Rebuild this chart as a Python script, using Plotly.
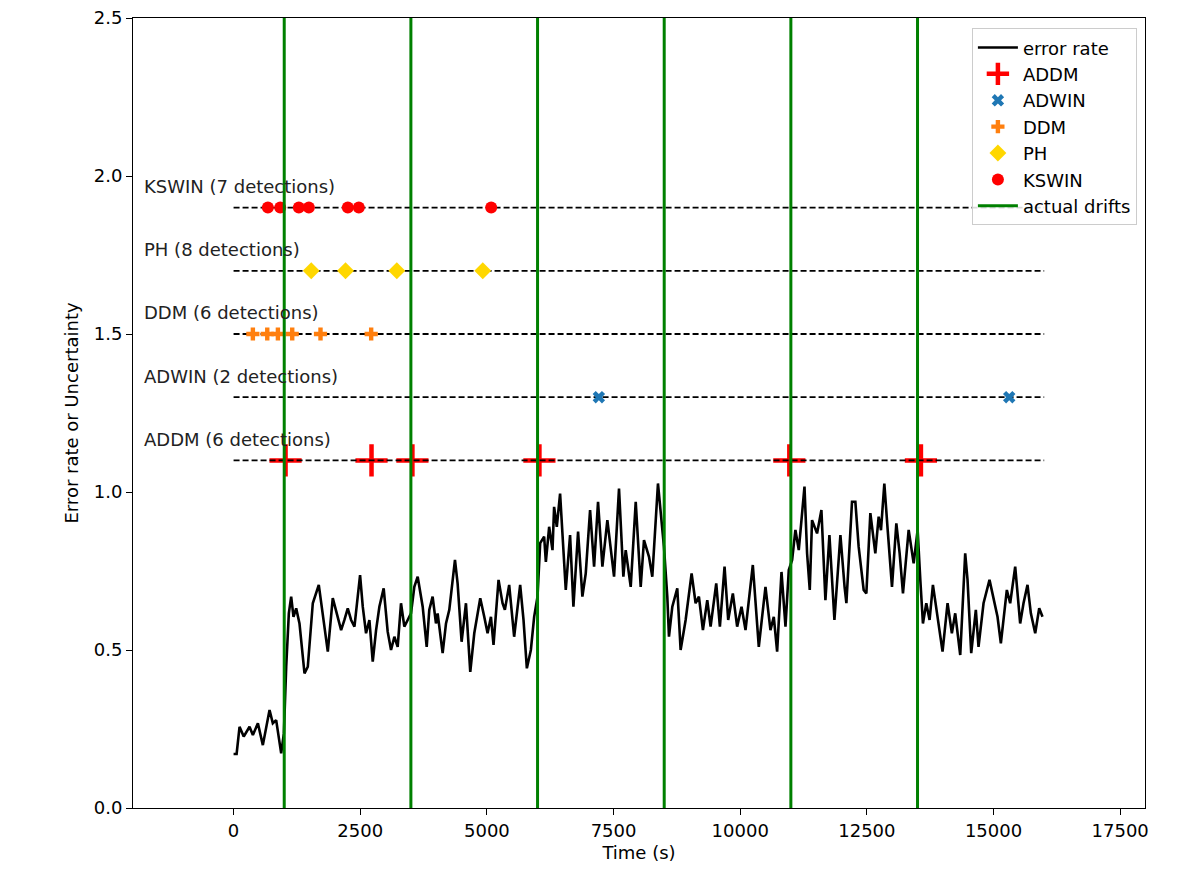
import plotly.graph_objects as go

# ---- data ----
err_t = [0, 60, 118, 200, 315, 381, 480, 578, 710, 775, 841, 940, 993, 1039, 1091, 1137, 1183, 1236,
         1301, 1400, 1465, 1564, 1682, 1761, 1860, 1958, 2024, 2123, 2188, 2254, 2320, 2386, 2497,
         2550, 2615, 2681, 2747, 2813, 2878, 2963, 3042, 3108, 3174, 3239, 3305, 3371, 3437, 3502,
         3568, 3634, 3733, 3812, 3863, 3929, 3995, 4028, 4127, 4193, 4258, 4370, 4422, 4501, 4587,
         4672, 4751, 4869, 4948, 5014, 5080, 5131, 5230, 5309, 5355, 5440, 5538, 5657, 5723, 5789,
         5868, 5933, 5999, 6052, 6130, 6164, 6229, 6295, 6327, 6380, 6445, 6491, 6557, 6642, 6708,
         6800, 6885, 6951, 7037, 7116, 7194, 7280, 7378, 7510, 7608, 7694, 7740, 7839, 7938, 8036,
         8101, 8200, 8265, 8377, 8430, 8495, 8561, 8594, 8660, 8758, 8824, 8923, 9041, 9120, 9185,
         9264, 9350, 9416, 9527, 9599, 9691, 9763, 9855, 9940, 10026, 10105, 10249, 10367, 10499,
         10597, 10663, 10729, 10815, 10894, 10959, 11025, 11090, 11156, 11269, 11320, 11373, 11418,
         11517, 11603, 11682, 11761, 11860, 11978, 12060, 12096, 12207, 12273, 12338, 12437, 12490,
         12569, 12667, 12733, 12779, 12845, 12911, 12996, 13082, 13147, 13213, 13325, 13424, 13502,
         13555, 13607, 13673, 13738, 13804, 13870, 13994, 14093, 14178, 14244, 14343, 14441, 14487,
         14560, 14651, 14704, 14803, 14921, 15000, 15079, 15145, 15263, 15329, 15428, 15526, 15592,
         15671, 15737, 15823, 15902, 15967]
err_v = [0.171, 0.171, 0.257, 0.226, 0.257, 0.231, 0.268, 0.199, 0.310, 0.268, 0.278, 0.173, 0.236,
         0.447, 0.616, 0.669, 0.605, 0.632, 0.584, 0.426, 0.447, 0.648, 0.706, 0.616, 0.495, 0.664,
         0.627, 0.563, 0.595, 0.632, 0.595, 0.574, 0.737, 0.637, 0.553, 0.595, 0.463, 0.563, 0.637,
         0.695, 0.558, 0.500, 0.542, 0.510, 0.648, 0.574, 0.595, 0.616, 0.700, 0.732, 0.637, 0.510,
         0.627, 0.669, 0.584, 0.616, 0.490, 0.584, 0.627, 0.785, 0.711, 0.526, 0.648, 0.431, 0.553,
         0.664, 0.605, 0.553, 0.605, 0.516, 0.722, 0.648, 0.627, 0.706, 0.542, 0.706, 0.595, 0.442,
         0.500, 0.605, 0.669, 0.838, 0.859, 0.779, 0.890, 0.816, 0.953, 0.890, 0.995, 0.859, 0.690,
         0.864, 0.637, 0.875, 0.669, 0.742, 0.943, 0.764, 0.969, 0.764, 0.911, 0.732, 1.011, 0.732,
         0.816, 0.700, 0.969, 0.700, 0.848, 0.795, 0.732, 1.027, 0.933, 0.827, 0.669, 0.542, 0.637,
         0.695, 0.500, 0.595, 0.742, 0.648, 0.669, 0.563, 0.658, 0.574, 0.711, 0.574, 0.764, 0.595,
         0.679, 0.574, 0.637, 0.563, 0.769, 0.510, 0.700, 0.563, 0.605, 0.495, 0.747, 0.574, 0.753,
         0.785, 0.880, 0.816, 1.017, 0.806, 0.690, 0.911, 0.869, 0.943, 0.658, 0.864, 0.595, 0.864,
         0.700, 0.648, 0.969, 0.969, 0.827, 0.690, 0.679, 0.933, 0.806, 0.922, 0.879, 1.027, 0.880,
         0.700, 0.901, 0.806, 0.679, 0.880, 0.774, 0.880, 0.722, 0.584, 0.648, 0.595, 0.706, 0.627,
         0.495, 0.648, 0.553, 0.616, 0.484, 0.806, 0.722, 0.490, 0.627, 0.510, 0.648, 0.722, 0.658,
         0.605, 0.521, 0.690, 0.648, 0.764, 0.584, 0.648, 0.706, 0.616, 0.553, 0.632, 0.605]

drifts = [1000, 3500, 6000, 8500, 11000, 13500]

detectors = ["ADDM", "ADWIN", "DDM", "PH", "KSWIN"]
levels = [1.1, 1.3, 1.5, 1.7, 1.9]
n_detections = [6, 2, 6, 8, 7]

addm_t = [1026, 2723, 3530, 6037, 10970, 13567]
adwin_t = [7210, 15310]
ddm_t = [381, 665, 875, 1158, 1716, 2716]
ph_t = [1533, 2210, 3222, 4919]
kswin_t = [677, 921, 1288, 1486, 2255, 2472, 5085]

t_end = 16000
label_x = -1800

x_ticks = [0, 2500, 5000, 7500, 10000, 12500, 15000, 17500]
y_ticks = [0.0, 0.5, 1.0, 1.5, 2.0, 2.5]

FONT = "DejaVu Sans"
fig = go.Figure()

fig.add_trace(go.Scatter(x=err_t, y=err_v, mode="lines", name="error rate",
                         line=dict(color="black", width=2.6), legendrank=1, legendgroup="a"))

fig.add_trace(go.Scatter(x=addm_t, y=[levels[0]] * len(addm_t), mode="markers", name="ADDM",
                         marker=dict(symbol="cross-thin", size=23, color="red",
                                     line=dict(color="red", width=4.5)),
                         legendrank=2, legendgroup="b"))

# dashed horizontal reference lines per detector
hx, hy = [], []
for lv in levels:
    hx += [0, t_end, None]
    hy += [lv, lv, None]
fig.add_trace(go.Scatter(x=hx, y=hy, mode="lines", showlegend=False,
                         line=dict(color="black", width=1.8, dash="6px,3px"), hoverinfo="skip"))

fig.add_trace(go.Scatter(x=adwin_t, y=[levels[1]] * len(adwin_t), mode="markers", name="ADWIN",
                         marker=dict(symbol="x", size=11, color="#1f77b4"),
                         legendrank=3, legendgroup="c"))
fig.add_trace(go.Scatter(x=ddm_t, y=[levels[2]] * len(ddm_t), mode="markers", name="DDM",
                         marker=dict(symbol="cross", size=11, color="#ff7f0e"),
                         legendrank=4, legendgroup="d"))
fig.add_trace(go.Scatter(x=ph_t, y=[levels[3]] * len(ph_t), mode="markers", name="PH",
                         marker=dict(symbol="diamond", size=13, color="#ffd700"),
                         legendrank=5, legendgroup="e"))
fig.add_trace(go.Scatter(x=kswin_t, y=[levels[4]] * len(kswin_t), mode="markers", name="KSWIN",
                         marker=dict(symbol="circle", size=12, color="red"),
                         legendrank=6, legendgroup="f"))

dx, dy = [], []
for d in drifts:
    dx += [d, d, None]
    dy += [y_ticks[0], y_ticks[-1], None]
fig.add_trace(go.Scatter(x=dx, y=dy, mode="lines", name="actual drifts",
                         line=dict(color="green", width=3), legendrank=7, legendgroup="g"))

for name, lv, n in zip(detectors, levels, n_detections):
    fig.add_annotation(x=label_x, y=lv + 0.067, text=f"{name} ({n} detections)",
                       xanchor="left", yanchor="middle", showarrow=False,
                       font=dict(family=FONT, size=18, color="#222"))

fig.update_layout(
    width=1196, height=882,
    margin=dict(l=133, r=51, t=18, b=74),
    paper_bgcolor="white", plot_bgcolor="white",
    font=dict(family=FONT, size=18, color="black"),
    showlegend=True,
    legend=dict(x=0.992, y=0.987, xanchor="right", yanchor="top",
                bgcolor="rgba(255,255,255,0.85)", bordercolor="#cccccc", borderwidth=1,
                font=dict(family=FONT, size=18), tracegroupgap=0, itemwidth=40),
    xaxis=dict(range=[-1985, 17990], tickvals=x_ticks, ticktext=[str(v) for v in x_ticks],
               showgrid=False, zeroline=False, showline=True, linecolor="black", linewidth=1,
               mirror=True, ticks="outside", ticklen=6, tickcolor="black", automargin=False,
               title=dict(text="Time (s)", standoff=6, font=dict(size=18))),
    yaxis=dict(range=[0, 2.5], tickvals=y_ticks, ticktext=[f"{v:.1f}" for v in y_ticks],
               showgrid=False, zeroline=False, showline=True, linecolor="black", linewidth=1,
               mirror=True, ticks="outside", ticklen=6, tickcolor="black", automargin=False,
               title=dict(text="Error rate or Uncertainty", standoff=10, font=dict(size=18))),
)

fig.write_html("out.html", config={"displayModeBar": False},
               post_script="document.body.style.margin='0';")
